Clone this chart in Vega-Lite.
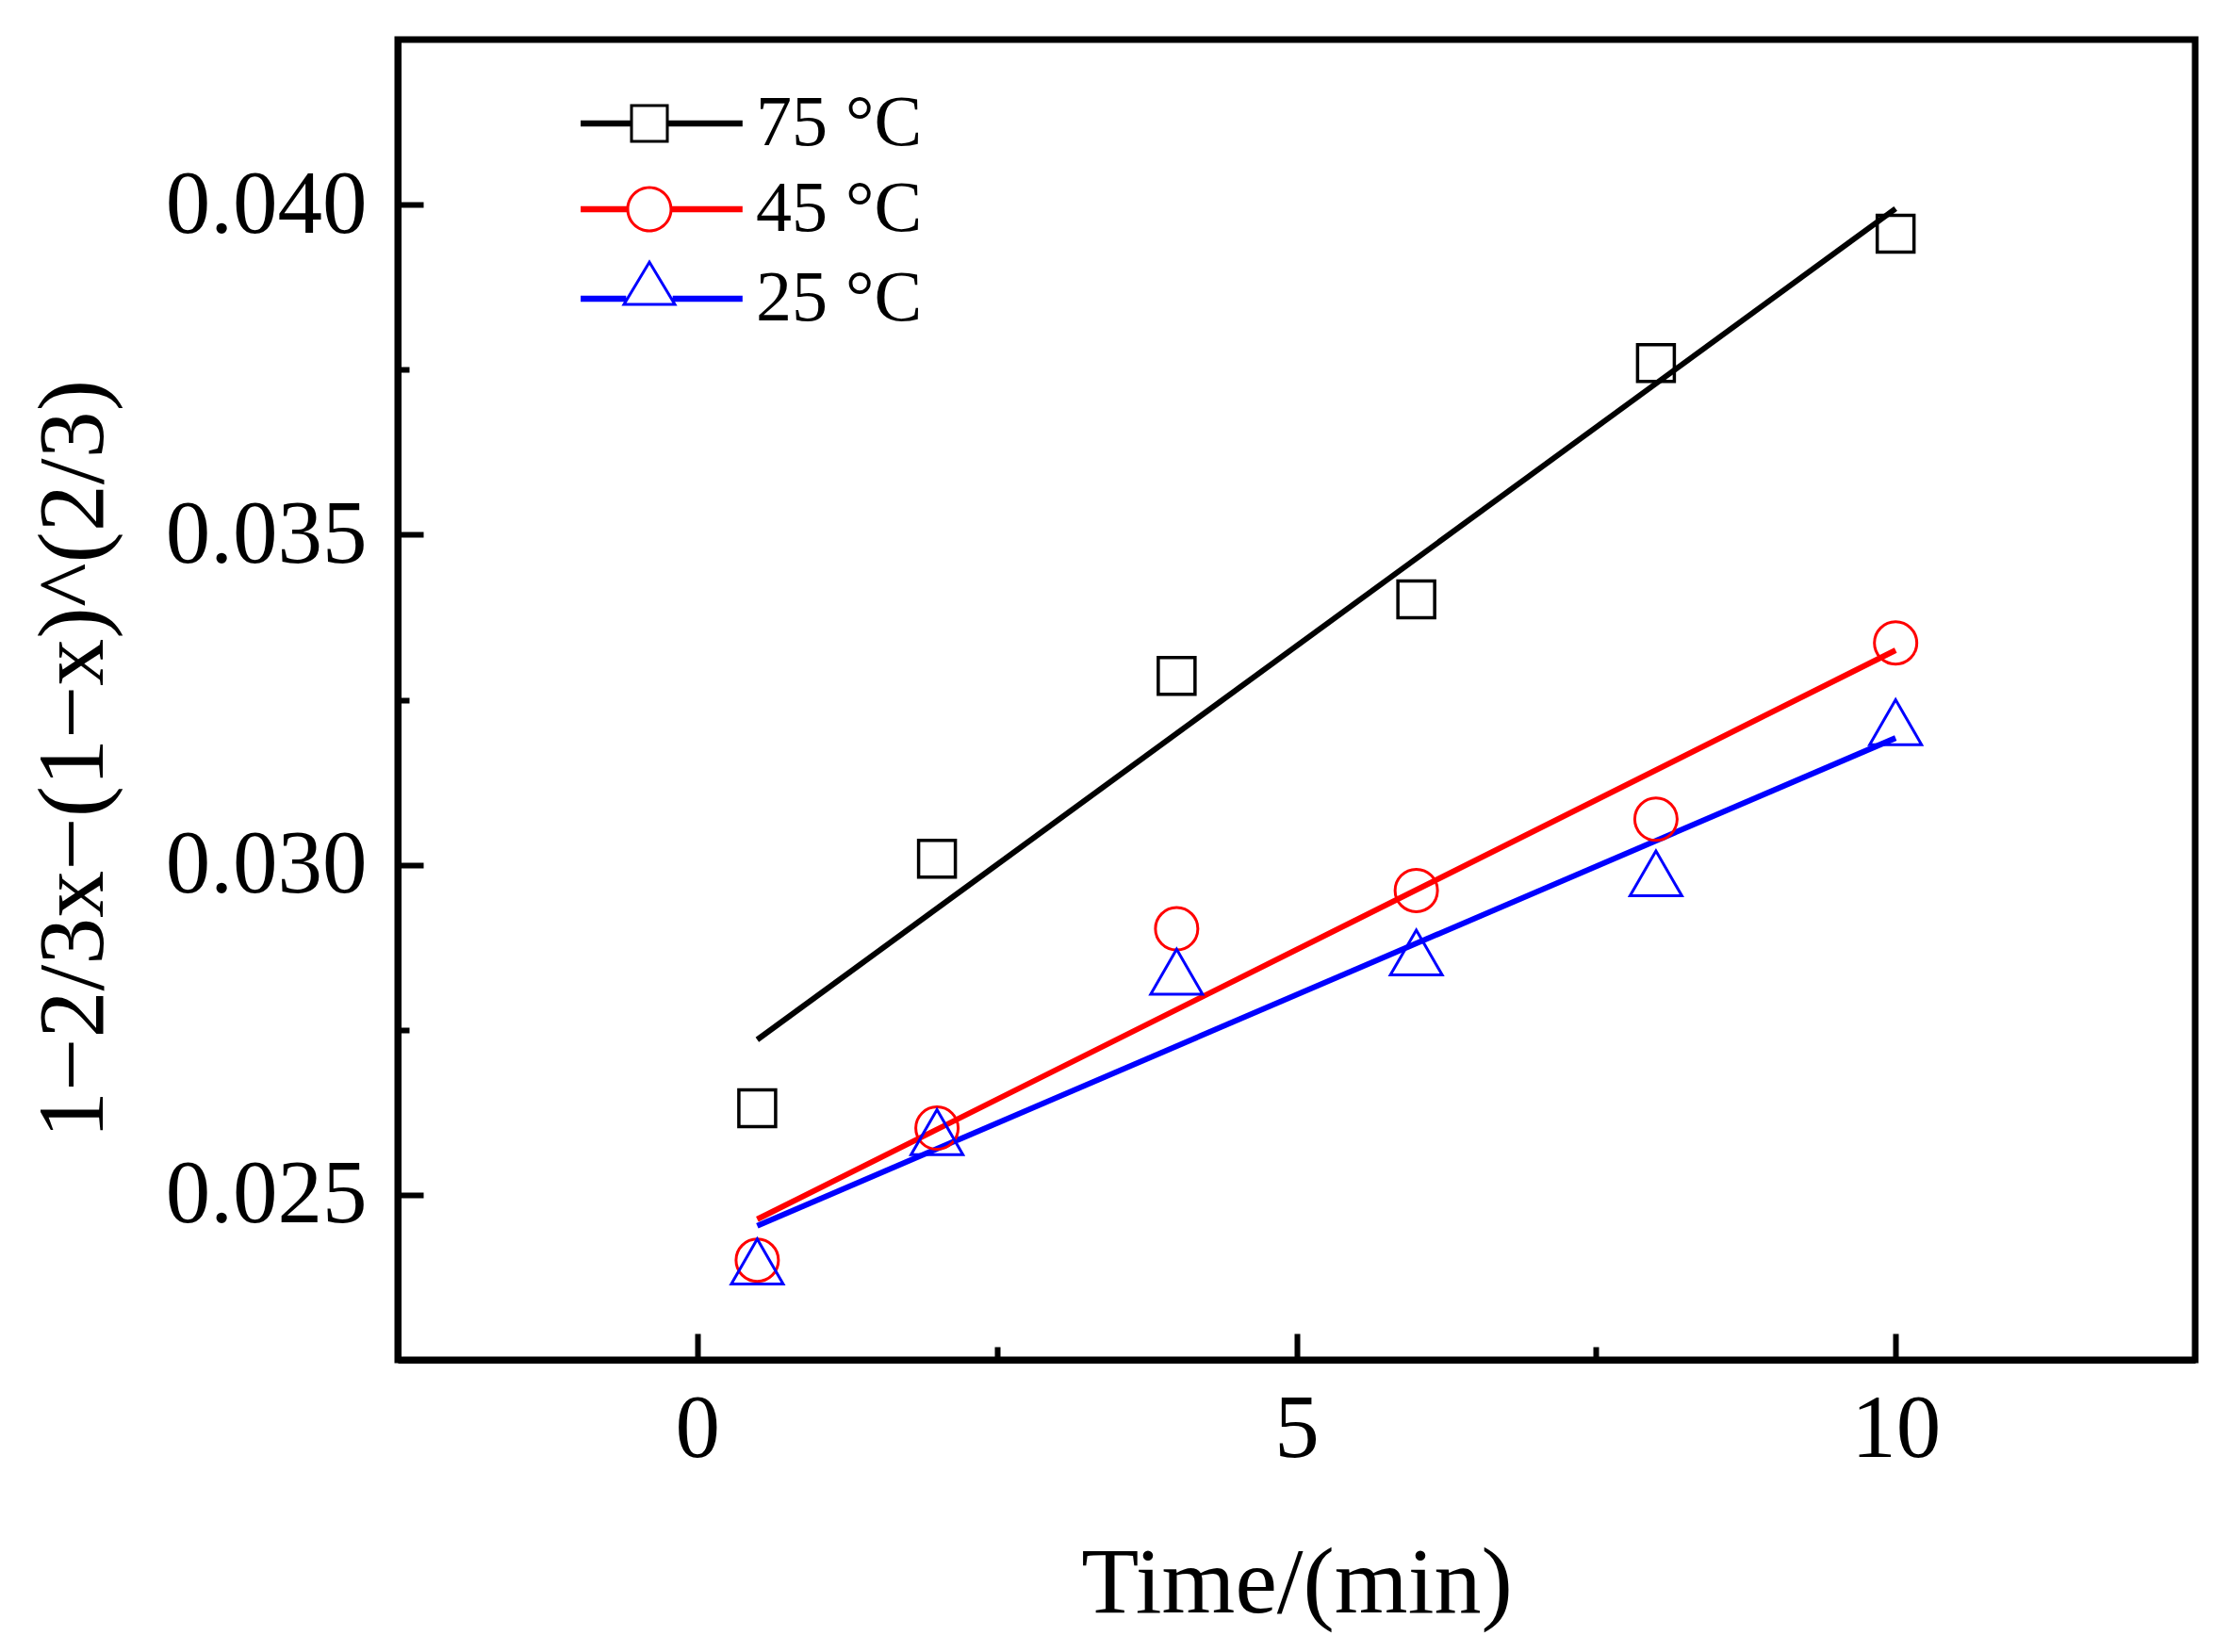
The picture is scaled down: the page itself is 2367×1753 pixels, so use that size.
{
  "$schema": "https://vega.github.io/schema/vega-lite/v6.json",
  "width": 1907,
  "height": 1401,
  "autosize": {"type": "none"},
  "padding": {"left": 422, "top": 42, "right": 38, "bottom": 310},
  "background": "white",
  "datasets": {
    "measured": [
      {"series": "75 °C", "time": 0.5, "value": 0.02631},
      {"series": "75 °C", "time": 2, "value": 0.03009},
      {"series": "75 °C", "time": 4, "value": 0.03286},
      {"series": "75 °C", "time": 6, "value": 0.03402},
      {"series": "75 °C", "time": 8, "value": 0.0376},
      {"series": "75 °C", "time": 10, "value": 0.03956},
      {"series": "45 °C", "time": 0.5, "value": 0.02401},
      {"series": "45 °C", "time": 2, "value": 0.02601},
      {"series": "45 °C", "time": 4, "value": 0.02903},
      {"series": "45 °C", "time": 6, "value": 0.02961},
      {"series": "45 °C", "time": 8, "value": 0.03069},
      {"series": "45 °C", "time": 10, "value": 0.03336},
      {"series": "25 °C", "time": 0.5, "value": 0.02399},
      {"series": "25 °C", "time": 2, "value": 0.02595},
      {"series": "25 °C", "time": 4, "value": 0.02838},
      {"series": "25 °C", "time": 6, "value": 0.02867},
      {"series": "25 °C", "time": 8, "value": 0.02987},
      {"series": "25 °C", "time": 10, "value": 0.03216}
    ],
    "fitted": [
      {"series": "75 °C", "time": 0.5, "value": 0.02735},
      {"series": "75 °C", "time": 10, "value": 0.03994},
      {"series": "45 °C", "time": 0.5, "value": 0.02463},
      {"series": "45 °C", "time": 10, "value": 0.03325},
      {"series": "25 °C", "time": 0.5, "value": 0.02453},
      {"series": "25 °C", "time": 10, "value": 0.03192}
    ]
  },
  "encoding": {
    "x": {
      "field": "time",
      "type": "quantitative",
      "scale": {"domain": [-2.5, 12.5], "nice": false, "zero": false},
      "axis": {
        "title": "Time/(min)",
        "values": [0, 2.5, 5, 7.5, 10],
        "format": "~g",
        "labelExpr": "datum.value % 5 === 0 ? datum.label : ''",
        "tickSize": {"condition": {"test": "datum.value % 5 === 0", "value": -28}, "value": -14},
        "labelPadding": 55,
        "titleY": 267,
        "titleBaseline": "alphabetic"
      }
    },
    "y": {
      "field": "value",
      "type": "quantitative",
      "scale": {"domain": [0.0225, 0.0425], "nice": false, "zero": false},
      "axis": {
        "title": "1−2/3x−(1−x)^(2/3)",
        "values": [0.025, 0.0275, 0.03, 0.0325, 0.035, 0.0375, 0.04],
        "format": ".3f",
        "labelExpr": "round(datum.value * 10000) % 50 === 0 ? datum.label : ''",
        "tickSize": {"condition": {"test": "round(datum.value * 10000) % 50 === 0", "value": -27}, "value": -12},
        "labelPadding": 60,
        "titleX": -314,
        "titleY": 763,
        "titleBaseline": "alphabetic"
      }
    }
  },
  "layer": [
    {
      "data": {"name": "fitted"},
      "transform": [{"filter": "datum.series === '75 °C'"}],
      "mark": {"type": "line", "strokeWidth": 6, "stroke": "#000000"}
    },
    {
      "data": {"name": "fitted"},
      "transform": [{"filter": "datum.series === '45 °C'"}],
      "mark": {"type": "line", "strokeWidth": 6, "stroke": "#ff0000"}
    },
    {
      "data": {"name": "fitted"},
      "transform": [{"filter": "datum.series === '25 °C'"}],
      "mark": {"type": "line", "strokeWidth": 6, "stroke": "#0000ff"}
    },
    {
      "data": {"name": "measured"},
      "transform": [{"filter": "datum.series === '75 °C'"}],
      "mark": {"type": "point", "shape": "square", "size": 1521, "filled": false, "stroke": "#000000", "strokeWidth": 3.5, "opacity": 1}
    },
    {
      "data": {"name": "measured"},
      "transform": [{"filter": "datum.series === '45 °C'"}],
      "mark": {"type": "point", "shape": "circle", "size": 2025, "filled": false, "stroke": "#ff0000", "strokeWidth": 3, "opacity": 1}
    },
    {
      "data": {"name": "measured"},
      "transform": [{"filter": "datum.series === '25 °C'"}],
      "mark": {"type": "point", "shape": "triangle-up", "size": 3025, "filled": false, "stroke": "#0000ff", "strokeWidth": 3, "opacity": 1}
    },
    {
      "data": {"name": "measured"},
      "mark": {"type": "point", "filled": true, "size": 1444, "opacity": 0},
      "encoding": {
        "color": {
          "field": "series",
          "type": "nominal",
          "scale": {"domain": ["75 °C", "45 °C", "25 °C"], "range": ["#000000", "#ff0000", "#0000ff"]},
          "legend": {
            "title": null,
            "orient": "none",
            "legendX": 229,
            "legendY": 51,
            "padding": 0,
            "rowPadding": 15,
            "symbolSize": 1444,
            "symbolOpacity": 1,
            "symbolStrokeWidth": 0,
            "labelOffset": 75,
            "labelLimit": 500,
            "labelFont": "Liberation Serif",
            "labelFontSize": 76,
            "labelColor": "black"
          }
        },
        "shape": {
          "field": "series",
          "type": "nominal",
          "scale": {
            "domain": ["75 °C", "45 °C", "25 °C"],
            "range": [
              "M-3.84,-0.17H-1.08V0.17H-3.84ZM1.08,-0.17H5.2V0.17H1.08ZM-1.08,-1.08H1.08V1.08H-1.08ZM-0.92,-0.92V0.92H0.92V-0.92Z",
              "M-3.84,-0.17H-1.25V0.17H-3.84ZM1.25,-0.17H5.2V0.17H1.25ZM-1.29,0A1.29,1.29 0 1,1 1.29,0A1.29,1.29 0 1,1 -1.29,0ZM-1.13,0A1.13,1.13 0 1,0 1.13,0A1.13,1.13 0 1,0 -1.13,0Z",
              "M-3.84,-0.17H-1.3V0.17H-3.84ZM1.3,-0.17H5.2V0.17H1.3ZM0,-2.2L1.56,0.4H-1.56ZM0,-1.9L-1.28,0.24H1.28Z"
            ]
          },
          "legend": {
            "title": null,
            "orient": "none",
            "legendX": 229,
            "legendY": 51,
            "padding": 0,
            "rowPadding": 15,
            "symbolSize": 1444,
            "symbolOpacity": 1,
            "symbolStrokeWidth": 0,
            "labelOffset": 75,
            "labelLimit": 500,
            "labelFont": "Liberation Serif",
            "labelFontSize": 76,
            "labelColor": "black"
          }
        }
      }
    }
  ],
  "config": {
    "view": {"stroke": "black", "strokeWidth": 7},
    "axis": {
      "grid": false,
      "labelFont": "Liberation Serif",
      "labelFontSize": 95,
      "labelColor": "black",
      "labelLimit": 500,
      "labelFlush": false,
      "labelOverlap": false,
      "titleFont": "Liberation Serif",
      "titleFontSize": 100,
      "titleFontWeight": "normal",
      "titleColor": "black",
      "domainColor": "black",
      "domainWidth": 7,
      "tickColor": "black",
      "tickWidth": 6
    }
  }
}
